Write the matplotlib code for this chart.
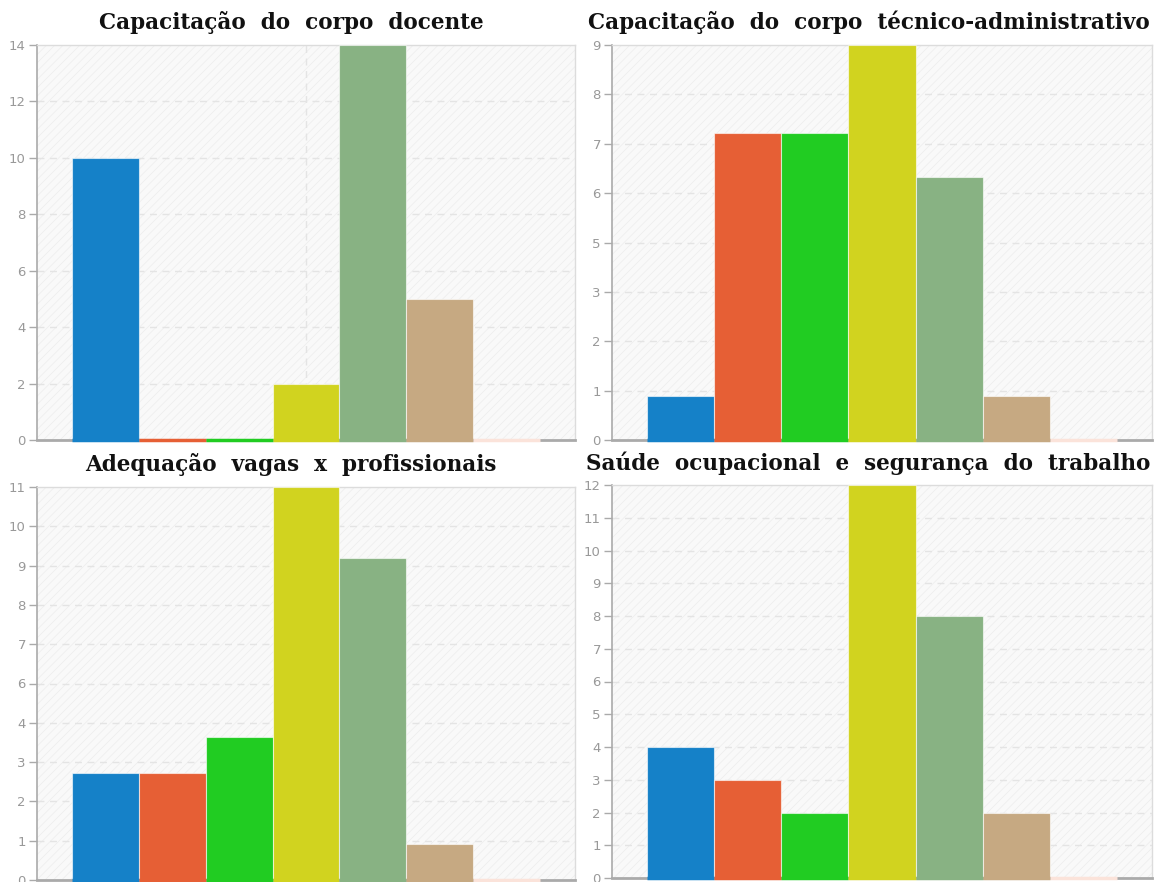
import numpy as np
import matplotlib
matplotlib.use("Agg")
import matplotlib.pyplot as plt
from matplotlib.patches import Rectangle

# ---- data ----
titles = [
    "Capacitação  do  corpo  docente",
    "Capacitação  do  corpo  técnico-administrativo",
    "Adequação  vagas  x  profissionais",
    "Saúde  ocupacional  e  segurança  do  trabalho",
]
values_docente = [10, 0, 0, 2, 14, 5, 0]
values_tecnico = [1, 7, 7, 9, 6, 1, 0]
values_vagas = [3, 3, 4, 11, 9, 1, 0]
values_saude = [4, 3, 2, 12, 8, 2, 0]
ymax_list = [14, 9, 11, 12]
labels_docente = ["0", "2", "4", "6", "8", "10", "12", "14"]
labels_tecnico = ["0", "1", "2", "3", "5", "6", "7", "8", "9"]
labels_vagas = ["0", "1", "2", "3", "4", "6", "7", "8", "9", "10", "11"]
labels_saude = ["0", "1", "2", "3", "4", "5", "6", "7", "8", "9", "10", "11", "12"]
bar_colors = ["#1581C8", "#E65F35", "#21CC22", "#D1D31F", "#88B283", "#C6A982", "#FBE3DA"]

all_values = [values_docente, values_tecnico, values_vagas, values_saude]
all_labels = [labels_docente, labels_tecnico, labels_vagas, labels_saude]

plt.rcParams["hatch.linewidth"] = 0.6
W, H = 1155, 882
fig = plt.figure(figsize=(W / 100, H / 100), dpi=100)
fig.patch.set_facecolor("white")

# axes rectangles in pixels: (left, top, right, bottom)
rects = [(37, 45, 575, 440), (612, 45, 1152, 440), (37, 487, 575, 880), (612, 485, 1152, 878)]
title_pos = [(291, 22), (869, 22), (291, 465), (868, 463)]

bar_w = 0.1245
for k in range(4):
    l, t, r, b = rects[k]
    ax = fig.add_axes([l / W, 1 - b / H, (r - l) / W, (b - t) / H])
    ax.set_facecolor("#f9f9f9")
    ax.add_patch(Rectangle((0, 0), 1, 1, transform=ax.transAxes, facecolor="none",
                           edgecolor="#eeeeee", hatch="////", linewidth=0, zorder=0))
    vals = all_values[k]
    n = len(vals)
    xs = (np.arange(n) - (n - 1) / 2) * bar_w
    bars = ax.bar(xs, vals, width=bar_w, color=bar_colors, edgecolor=(1, 1, 1, 0.6),
                  linewidth=0.8, zorder=3)
    ymax = ymax_list[k]
    ax.set_xlim(-0.5, 0.5)
    ax.set_ylim(0, ymax)
    labs = all_labels[k]
    ticks = np.linspace(0, ymax, len(labs))
    ax.set_yticks(ticks)
    ax.set_yticklabels(labs)
    ax.set_xticks([])
    # grid
    for tv in ticks[1:-1]:
        ax.axhline(tv, color="#e4e4e4", linestyle=(0, (5, 4)), linewidth=1, zorder=1)
    ax.axvline(0, color="#e4e4e4", linestyle=(0, (5, 4)), linewidth=1, zorder=1)
    # colored base strips at zero over the axis line
    for p, c in zip(bars.patches, bar_colors):
        ax.hlines(0, p.get_x(), p.get_x() + p.get_width(), colors=c, linewidth=2.5,
                  zorder=5, clip_on=False)
    ax.tick_params(axis="y", colors="#aaaaaa", labelcolor="#999999", labelsize=9.5,
                   length=6, width=1, pad=2, direction="out")
    for side in ["top", "right"]:
        ax.spines[side].set_color("#dcdcdc")
        ax.spines[side].set_linewidth(1)
    ax.spines["left"].set_color("#aaaaaa")
    ax.spines["left"].set_linewidth(1.2)
    ax.spines["bottom"].set_color("#aaaaaa")
    ax.spines["bottom"].set_linewidth(2)
    ax.spines["bottom"].set_zorder(4)
    tx, ty = title_pos[k]
    fig.text(tx / W, 1 - ty / H, titles[k], ha="center", va="center",
             fontsize=15.5, fontweight="bold", family="DejaVu Serif", color="#111111")

fig.savefig("out.png", dpi=100)
